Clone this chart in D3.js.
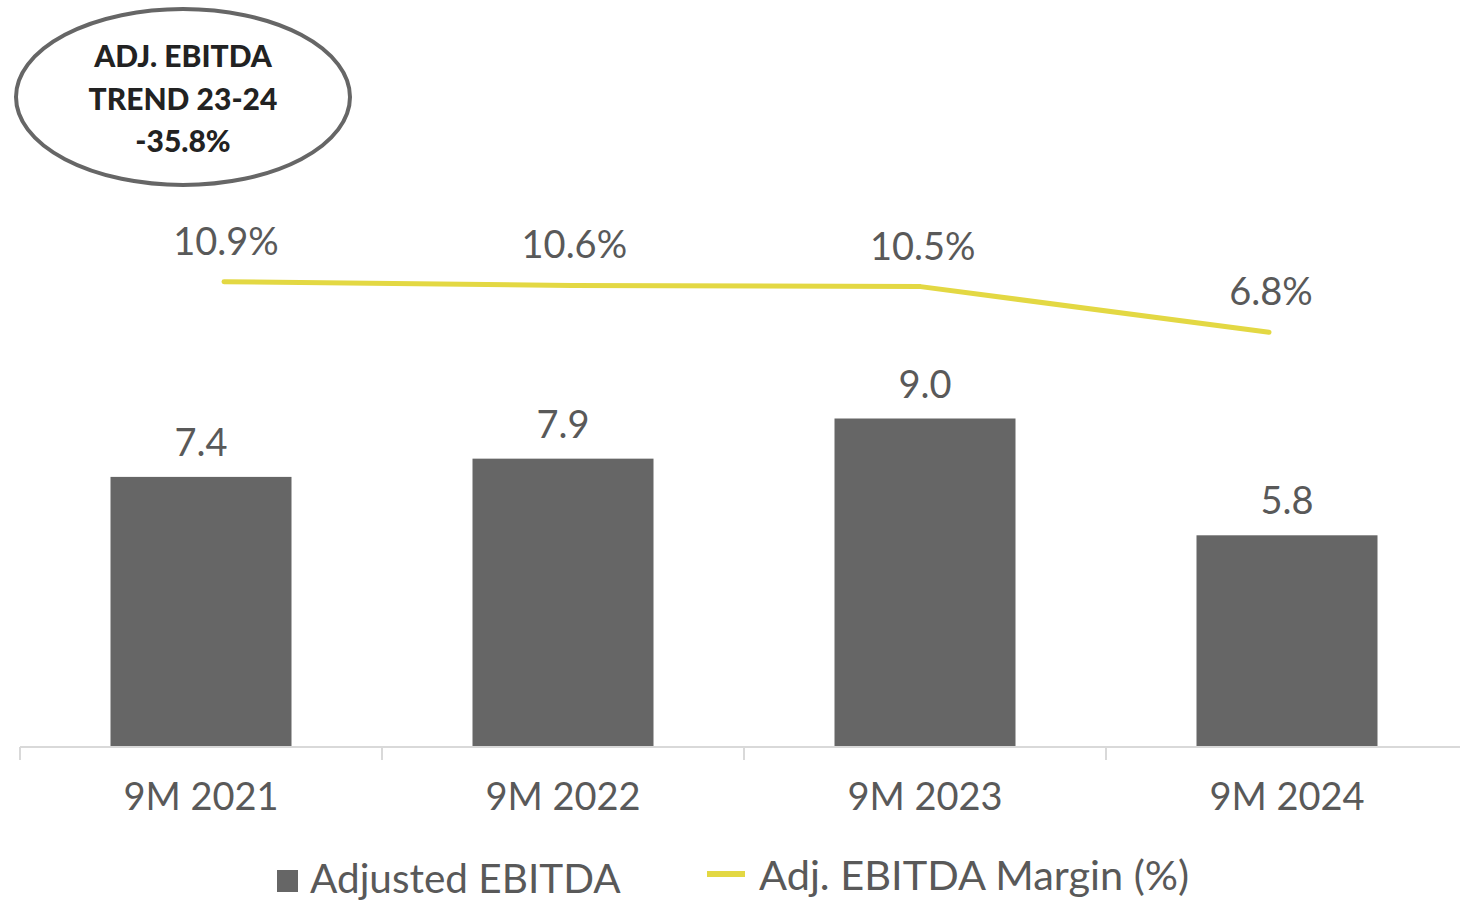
<!DOCTYPE html>
<html><head><meta charset="utf-8">
<script src="https://cdn.jsdelivr.net/npm/d3@7"></script>
<style>
html,body{margin:0;padding:0;background:#fff;}
svg{display:block;}
text{font-family:"Lato","Open Sans",sans-serif;}
</style></head>
<body><svg id="chart" width="1460" height="901"></svg>
<script>
const categories = ["9M 2021", "9M 2022", "9M 2023", "9M 2024"];
const ebitda = [7.4, 7.9, 9.0, 5.8];
const margin = [10.9, 10.6, 10.5, 6.8];
const barLabels = ["7.4", "7.9", "9.0", "5.8"];
const marginLabels = ["10.9%", "10.6%", "10.5%", "6.8%"];
const badgeLines = ["ADJ. EBITDA", "TREND 23-24", "-35.8%"];
const legendItems = ["Adjusted EBITDA", "Adj. EBITDA Margin (%)"];

const svg = d3.select("#chart");
const textColor = "#595959";
const barColor = "#666666";
const lineColor = "#e3d843";

const x = d3.scaleBand().domain(categories).range([20, 1468]).paddingInner(0.5).paddingOuter(0.25);
const y = d3.scaleLinear().domain([0, 10]).range([747, 382]);
const xl = d3.scalePoint().domain(categories).range([224, 1269]);
const yl = d3.scaleLinear().domain([0, 12]).range([416.2, 268.1]);

// bars
svg.append("g").selectAll("rect").data(categories).join("rect")
  .attr("x", d => x(d)).attr("width", x.bandwidth())
  .attr("y", (d,i) => y(ebitda[i])).attr("height", (d,i) => y(0) - y(ebitda[i]))
  .attr("fill", barColor);

svg.append("g").selectAll("text").data(categories).join("text")
  .attr("x", d => x(d) + x.bandwidth()/2)
  .attr("y", (d,i) => y(ebitda[i]) - 21)
  .attr("text-anchor", "middle").attr("font-size", 38).attr("fill", textColor)
  .text((d,i) => barLabels[i]);

// axis
const gx = svg.append("g").attr("transform", "translate(0,747)");
gx.append("line").attr("x1", 20).attr("x2", 1460).attr("y1", 0).attr("y2", 0)
  .attr("stroke", "#d9d9d9").attr("stroke-width", 2);
const step = x.step();
const boundaries = d3.range(categories.length + 1).map(i => 20 + i * step);
gx.selectAll("line.tk").data(boundaries).join("line").attr("class", "tk")
  .attr("x1", d => d).attr("x2", d => d).attr("y1", 0).attr("y2", 13)
  .attr("stroke", "#d9d9d9").attr("stroke-width", 2);
gx.selectAll("text.cat").data(categories).join("text").attr("class", "cat")
  .attr("x", d => x(d) + x.bandwidth()/2).attr("y", 63)
  .attr("text-anchor", "middle").attr("font-size", 38).attr("fill", textColor)
  .text(d => d);

// line
const line = d3.line().x((d,i) => xl(categories[i])).y(d => yl(d));
svg.append("path").datum(margin).attr("d", line)
  .attr("fill", "none").attr("stroke", lineColor).attr("stroke-width", 5)
  .attr("stroke-linecap", "round").attr("stroke-linejoin", "round");

svg.append("g").selectAll("text").data(margin).join("text")
  .attr("x", (d,i) => xl(categories[i]) + 2)
  .attr("y", d => yl(d) - 27)
  .attr("text-anchor", "middle").attr("font-size", 38).attr("fill", textColor)
  .text((d,i) => marginLabels[i]);

// badge
const badge = svg.append("g");
badge.append("ellipse").attr("cx", 183).attr("cy", 97).attr("rx", 167).attr("ry", 88)
  .attr("fill", "#fff").attr("stroke", "#666666").attr("stroke-width", 4);
badge.selectAll("text").data(badgeLines).join("text")
  .attr("x", 183).attr("y", (d,i) => 67 + i * 42.5)
  .attr("text-anchor", "middle").attr("font-size", 30).attr("font-weight", 900)
  .attr("fill", "#222222").text(d => d);

// legend
const lg = svg.append("g");
lg.append("rect").attr("x", 277).attr("y", 870).attr("width", 21).attr("height", 22).attr("fill", barColor);
lg.append("text").attr("x", 310).attr("y", 893).attr("font-size", 40.5).attr("fill", textColor).text(legendItems[0]);
lg.append("rect").attr("x", 707).attr("y", 871).attr("width", 38).attr("height", 6).attr("fill", lineColor);
lg.append("text").attr("x", 759).attr("y", 890).attr("font-size", 41.5).attr("fill", textColor).text(legendItems[1]);
</script></body></html>
